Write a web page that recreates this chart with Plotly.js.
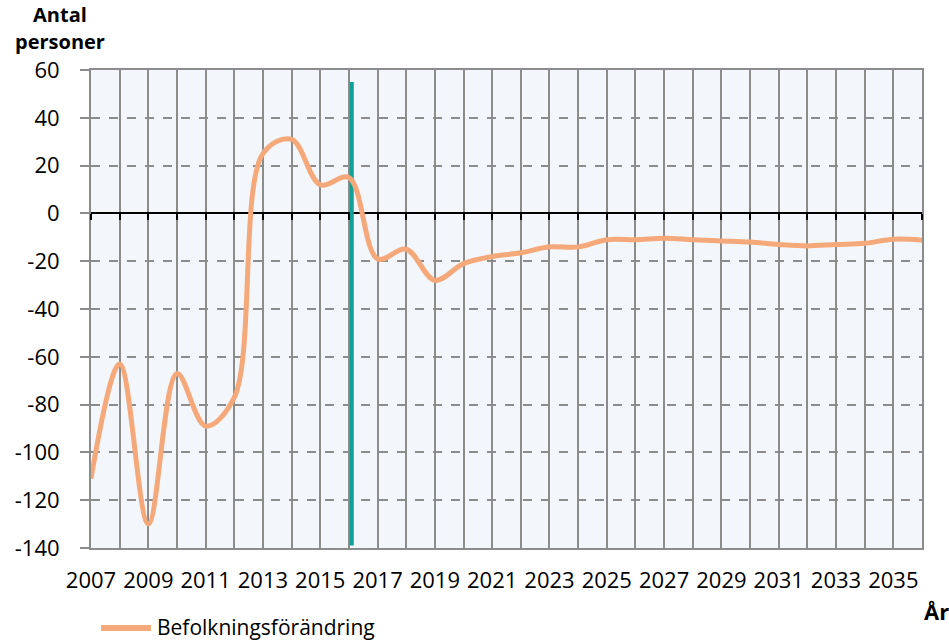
<!DOCTYPE html>
<html>
<head>
<meta charset="utf-8">
<script src="https://cdn.plot.ly/plotly-3.0.1.min.js"></script>
<style>html,body{margin:0;padding:0;background:#fff;}#chart{width:949px;height:640px;}</style>
</head>
<body>
<div id="chart"></div>
<script>
const years = [2007,2008,2009,2010,2011,2012,2013,2014,2015,2016,2017,2018,2019,2020,2021,2022,2023,2024,2025,2026,2027,2028,2029,2030,2031,2032,2033,2034,2035,2036];
const befolkningsforandring = [-111,-63,-130,-67,-89,-77,25,31,12,15,-19,-15,-28,-21,-18,-16.5,-14,-14,-11,-11,-10.4,-11,-11.5,-12,-13,-13.6,-13,-12.5,-10.8,-11.2];
const xTickValues = [2007,2008,2009,2010,2011,2012,2013,2014,2015,2016,2017,2018,2019,2020,2021,2022,2023,2024,2025,2026,2027,2028,2029,2030,2031,2032,2033,2034,2035,2036];
const xTickLabels = ['2007','','2009','','2011','','2013','','2015','','2017','','2019','','2021','','2023','','2025','','2027','','2029','','2031','','2033','','2035',''];
const yTickValues = [60,40,20,0,-20,-40,-60,-80,-100,-120,-140];
const yTickLabels = ['60','40','20','0','-20','-40','-60','-80','-100','-120','-140'];
const markerLineX = [2016.1, 2016.1];
const markerLineY = [-139, 55];
const seriesName = 'Befolkningsförändring';

const font = 'Open Sans, Lato, sans-serif';
const lineColor = '#F5A97A';
const traces = [
  {
    x: markerLineX, y: markerLineY, mode: 'lines', showlegend: false, hoverinfo: 'skip',
    line: {color: '#12A096', width: 4}
  },
  {
    x: years, y: befolkningsforandring, mode: 'lines', name: seriesName, showlegend: false,
    line: {color: lineColor, width: 5, shape: 'spline', smoothing: 1}
  },
  {x: [2007], y: [0], xaxis: 'x2', mode: 'markers', marker: {opacity: 0}, showlegend: false, hoverinfo: 'skip'}
];
const W = 831, H = 478; // plot size in px
const px = v => (v - 91) / W;
const py = v => (548 - v) / H;
const layout = {
  width: 949, height: 640,
  margin: {l: 91, r: 27, t: 70, b: 92, autoexpand: false},
  paper_bgcolor: '#ffffff', plot_bgcolor: '#F3F6FB',
  font: {family: font, size: 22, color: '#000'},
  xaxis: {
    range: [2007, 2036], tickmode: 'array', tickvals: xTickValues, ticktext: xTickLabels,
    showgrid: true, gridcolor: '#8C8C8C', gridwidth: 2, zeroline: false,
    showline: true, linecolor: '#8C8C8C', linewidth: 2, mirror: true,
    ticks: '', tickfont: {family: font, size: 22}, ticklabelstandoff: 12
  },
  xaxis2: {
    overlaying: 'x', anchor: 'free', position: 0.7, range: [2007, 2036],
    tickmode: 'array', tickvals: xTickValues, showticklabels: false,
    ticks: 'outside', ticklen: 6, tickwidth: 2, tickcolor: '#000',
    showline: false, showgrid: false, zeroline: false
  },
  yaxis: {
    range: [-140, 60], tickmode: 'array', tickvals: yTickValues, ticktext: yTickLabels,
    showgrid: true, gridcolor: '#8C8C8C', gridwidth: 2, griddash: 'dash',
    zeroline: true, zerolinecolor: '#000', zerolinewidth: 2,
    showline: true, linecolor: '#8C8C8C', linewidth: 2, mirror: true,
    ticks: 'outside', ticklen: 9, tickwidth: 2, tickcolor: '#8C8C8C',
    tickfont: {family: font, size: 22}, ticklabelstandoff: 16
  },
  showlegend: false,
  shapes: [
    {type: 'line', xref: 'paper', yref: 'paper', x0: px(101), x1: px(151), y0: py(628), y1: py(628),
      line: {color: lineColor, width: 6}}
  ],
  annotations: [
    {text: '<b>Antal</b>', xref: 'paper', yref: 'paper', x: px(60), y: py(15),
      xanchor: 'center', yanchor: 'middle', showarrow: false, font: {family: font, size: 20}},
    {text: '<b>personer</b>', xref: 'paper', yref: 'paper', x: px(60), y: py(42),
      xanchor: 'center', yanchor: 'middle', showarrow: false, font: {family: font, size: 20}},
    {text: '<b>År</b>', xref: 'paper', yref: 'paper', x: px(936), y: py(611),
      xanchor: 'center', yanchor: 'middle', showarrow: false, font: {family: font, size: 22}},
    {text: seriesName, xref: 'paper', yref: 'paper', x: px(155), y: py(627),
      xanchor: 'left', yanchor: 'middle', showarrow: false, font: {family: font, size: 21}}
  ]
};
Plotly.newPlot('chart', traces, layout, {displayModeBar: false});
</script>
</body>
</html>
